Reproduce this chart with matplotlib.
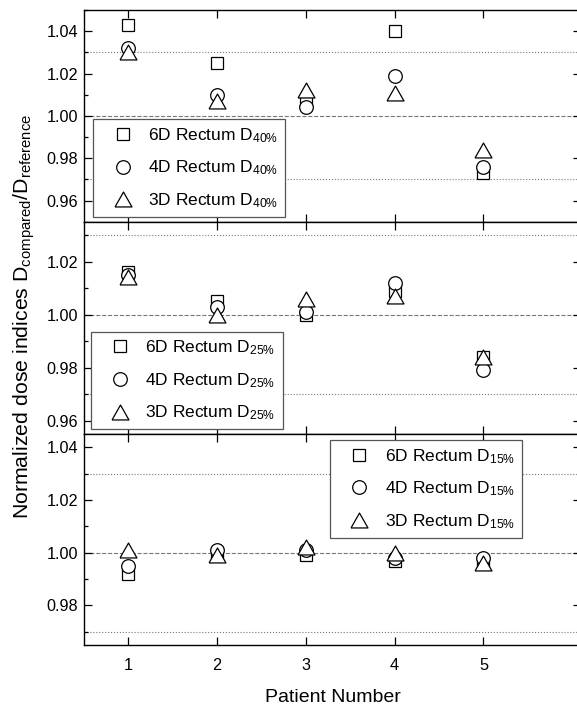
import matplotlib
matplotlib.use("Agg")
import matplotlib.pyplot as plt
from matplotlib.ticker import MultipleLocator, FormatStrFormatter

plt.rcParams['font.family'] = ['Liberation Sans', 'DejaVu Sans']
plt.rcParams['mathtext.fontset'] = 'custom'
plt.rcParams['mathtext.rm'] = 'Liberation Sans'
plt.rcParams['mathtext.it'] = 'Liberation Sans:italic'

patients = [1, 2, 3, 4, 5]

d40_6d = [1.043, 1.025, 1.006, 1.040, 0.973]
d40_4d = [1.032, 1.010, 1.004, 1.019, 0.976]
d40_3d = [1.030, 1.007, 1.012, 1.011, 0.984]

d25_6d = [1.016, 1.005, 1.000, 1.009, 0.984]
d25_4d = [1.015, 1.003, 1.001, 1.012, 0.979]
d25_3d = [1.014, 1.000, 1.006, 1.007, 0.984]

d15_6d = [0.992, 1.000, 0.999, 0.997, 0.997]
d15_4d = [0.995, 1.001, 1.001, 0.998, 0.998]
d15_3d = [1.001, 0.999, 1.002, 1.000, 0.996]

panel_pct = ['40', '25', '15']
panel_ylim = [(0.95, 1.05), (0.955, 1.035), (0.965, 1.045)]
series_names = ['6D Rectum D', '4D Rectum D', '3D Rectum D']

W, H = 577, 709
fig = plt.figure(figsize=(W / 100, H / 100), dpi=100)

left = 84 / W
right_px = 581
width = (right_px - 84) / W
edges = [10, 221.7, 434, 645]

panels = [
    (d40_6d, d40_4d, d40_3d),
    (d25_6d, d25_4d, d25_3d),
    (d15_6d, d15_4d, d15_3d),
]

tri = [(-1, -0.88), (1, -0.88), (0, 0.88), (-1, -0.88)]
markers = [('s', 9.0), ('o', 9.8), (tri, 12.2)]

leg_locs = [
    dict(loc='lower left', bbox_to_anchor=(9 / 497, 4.7 / 211.7)),
    dict(loc='lower left', bbox_to_anchor=(6.7 / 497, 4.7 / 212.3)),
    dict(loc='upper right', bbox_to_anchor=((521.7 - 84) / 497, 1 - 6 / 211)),
]

for i, (data, pct, ylim) in enumerate(zip(panels, panel_pct, panel_ylim)):
    top, bot = edges[i], edges[i + 1]
    ax = fig.add_axes([left, 1 - bot / H, width, (bot - top) / H])
    for ref, ls in [(1.03, ':'), (1.00, '--'), (0.97, ':')]:
        ax.axhline(ref, color='#777777', lw=0.8, ls=ls, zorder=1)
    handles = []
    for vals, (m, ms), name in zip(data, markers, series_names):
        h, = ax.plot(patients, vals, ls='none', marker=m, ms=ms,
                     mfc='white', mec='black', mew=0.9, zorder=3,
                     label=name + r'$\mathregular{_{' + pct + r'\%}}$')
        handles.append(h)
    ax.set_xlim(0.5, 6.1)
    ax.set_ylim(*ylim)
    ax.set_xticks(patients)
    ax.yaxis.set_major_locator(MultipleLocator(0.02))
    ax.yaxis.set_minor_locator(MultipleLocator(0.01))
    ax.yaxis.set_major_formatter(FormatStrFormatter('%.2f'))
    ax.tick_params(which='both', direction='in', top=True, right=True,
                   labelsize=11.7, width=0.9, colors='black')
    ax.tick_params(which='major', length=6)
    ax.tick_params(which='minor', length=3)
    ax.tick_params(axis='x', which='minor', bottom=False, top=False)
    ax.tick_params(axis='y', pad=4)
    ax.tick_params(axis='x', pad=9)
    for s in ax.spines.values():
        s.set_linewidth(1.0)
        s.set_color('black')
    ax.spines['right'].set_visible(False)
    if i < 2:
        ax.tick_params(axis='x', labelbottom=False)
    else:
        ax.set_xlabel('Patient Number', fontsize=14, labelpad=12)
    leg = ax.legend(handles=handles, fontsize=12.5, frameon=True, fancybox=False,
                    edgecolor='#555555', framealpha=1, borderaxespad=0,
                    handlelength=2.6, handletextpad=0.15, labelspacing=0.8,
                    borderpad=0.4, numpoints=1, **leg_locs[i])
    leg.get_frame().set_linewidth(0.9)

fig.text(24 / W, 1 - 316 / H,
         r'Normalized dose indices D$\mathregular{_{compared}}$/D$\mathregular{_{reference}}$',
         rotation=90, ha='center', va='center', fontsize=15.3)

fig.savefig('out.png', dpi=100)
